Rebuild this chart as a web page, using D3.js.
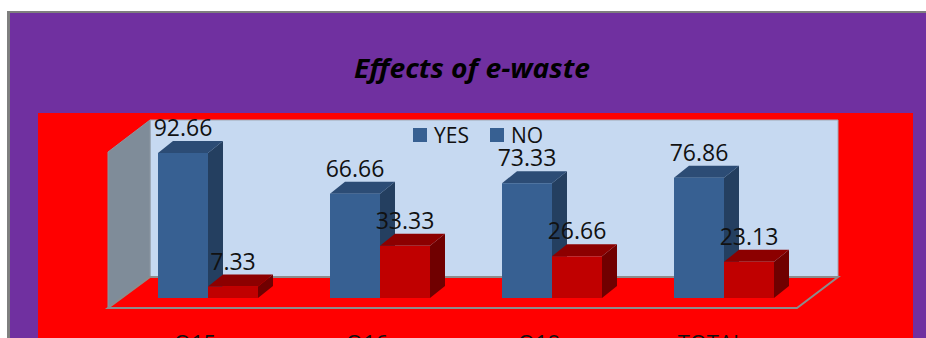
<!DOCTYPE html>
<html>
<head>
<meta charset="utf-8">
<script src="https://cdn.jsdelivr.net/npm/d3@7"></script>
<style>
  body { margin: 0; background: #fff; }
  svg { display: block; }
</style>
</head>
<body>
<div id="chart"></div>
<script>
var width = 926;
var height = 338;

// data
var categories = ["Q15", "Q16", "Q18", "TOTAL"];
var series = ["YES", "NO"];
var yesValues = [92.66, 66.66, 73.33, 76.86];
var noValues = [7.33, 33.33, 26.66, 23.13];
var valueLabels = {YES: ["92.66", "66.66", "73.33", "76.86"], NO: ["7.33", "33.33", "26.66", "23.13"]};

var rows = categories.map(function(c, i) {
  return {cat: c, values: [{key: "YES", v: yesValues[i], label: valueLabels.YES[i]}, {key: "NO", v: noValues[i], label: valueLabels.NO[i]}]};
});

var depthX = 15, depthY = 12; // 3d offset of the bars

var colors = {
  YES: {front: "#376092", top: "#2c4c75", side: "#243f60"},
  NO:  {front: "#c00000", top: "#8c0000", side: "#700000"}
};

var svg = d3.select("#chart").append("svg")
  .attr("width", width)
  .attr("height", height);

// outer chart area
svg.append("rect").attr("x", 7).attr("y", 11).attr("width", width).attr("height", height).attr("fill", "#7f7f7f");
svg.append("rect").attr("x", 10).attr("y", 13).attr("width", width).attr("height", height).attr("fill", "#7030a0");

// plot area
svg.append("rect").attr("x", 38).attr("y", 113).attr("width", 875).attr("height", height).attr("fill", "#ff0000");

svg.append("text")
  .attr("x", 472).attr("y", 78)
  .attr("text-anchor", "middle")
  .style("font-family", "'Liberation Sans Narrow', 'Open Sans', sans-serif")
  .style("font-weight", "bold").style("font-style", "italic")
  .style("font-size", "27px")
  .attr("textLength", 236).attr("lengthAdjust", "spacingAndGlyphs")
  .text("Effects of e-waste");

var x0 = d3.scaleBand().domain(categories).range([122, 810]);
var x1 = d3.scaleBand().domain(series).range([36, 136]);
var y = d3.scaleLinear().domain([0, 100]).range([298, 141.5]);

// walls and floor
var wallL = 150, wallR = 838, wallTop = 120, floorBack = 277, floorFront = 308;
var frontL = 108, frontR = 797;

svg.append("polygon")
  .attr("points", [[wallL, wallTop], [wallR, wallTop], [wallR, floorBack], [wallL, floorBack]].join(" "))
  .attr("fill", "#c6d9f1").attr("stroke", "#a0a8b4").attr("stroke-width", 1);
svg.append("polygon")
  .attr("points", [[frontL, wallTop + 32], [wallL, wallTop], [wallL, floorBack], [frontL, floorFront]].join(" "))
  .attr("fill", "#7f8c99").attr("stroke", "#8c96a0").attr("stroke-width", 1);
svg.append("polygon")
  .attr("points", [[wallL, floorBack], [wallR, floorBack], [frontR, floorFront], [frontL, floorFront]].join(" "))
  .attr("fill", "#ff0000").attr("stroke", "#8c8c8c").attr("stroke-width", 2);

// bars
var groups = svg.selectAll(".cat")
  .data(rows)
  .enter().append("g")
  .attr("class", "cat")
  .attr("transform", function(d) { return "translate(" + x0(d.cat) + ",0)"; });

var bars = groups.selectAll(".bar")
  .data(function(d) { return d.values; })
  .enter().append("g")
  .attr("class", "bar");

bars.append("polygon") // side
  .attr("points", function(d) {
    var xr = x1(d.key) + x1.bandwidth(), yt = y(d.v), yb = y(0);
    return [[xr, yt], [xr + depthX, yt - depthY], [xr + depthX, yb - depthY], [xr, yb]].join(" ");
  })
  .attr("fill", function(d) { return colors[d.key].side; });

bars.append("polygon") // top
  .attr("points", function(d) {
    var xl = x1(d.key), xr = xl + x1.bandwidth(), yt = y(d.v);
    return [[xl, yt], [xl + depthX, yt - depthY], [xr + depthX, yt - depthY], [xr, yt]].join(" ");
  })
  .attr("fill", function(d) { return colors[d.key].top; });

bars.append("rect") // front
  .attr("x", function(d) { return x1(d.key); })
  .attr("y", function(d) { return y(d.v); })
  .attr("width", x1.bandwidth())
  .attr("height", function(d) { return y(0) - y(d.v); })
  .attr("fill", function(d) { return colors[d.key].front; });

// value labels on top of everything
groups.selectAll(".val")
  .data(function(d) { return d.values; })
  .enter().append("text")
  .attr("class", "val")
  .attr("x", function(d) { return x1(d.key) + x1.bandwidth() / 2; })
  .attr("y", function(d) { return y(d.v) - depthY - 5; })
  .attr("text-anchor", "middle")
  .style("font-family", "'Open Sans', sans-serif")
  .style("font-size", "23px")
  .attr("fill", "#111")
  .text(function(d) { return d.label; });

// category labels (mostly cut off at bottom)
svg.selectAll(".catlabel")
  .data(categories)
  .enter().append("text")
  .attr("class", "catlabel")
  .attr("x", function(d) { return x0(d) + x0.bandwidth() / 2 - 13; })
  .attr("y", 351)
  .attr("text-anchor", "middle")
  .style("font-family", "'Open Sans', sans-serif")
  .style("font-size", "22px")
  .attr("fill", "#111")
  .text(function(d) { return d; });

// legend
var legend = svg.append("g").attr("transform", "translate(413,128)");
var legendX = [0, 77];
series.forEach(function(s, i) {
  legend.append("rect").attr("x", legendX[i]).attr("y", 0).attr("width", 14).attr("height", 14).attr("fill", colors.YES.front);
  legend.append("text").attr("x", legendX[i] + 21).attr("y", 15)
    .style("font-family", "'Open Sans', sans-serif").style("font-size", "21px").attr("fill", "#111")
    .text(s);
});
</script>
</body>
</html>
